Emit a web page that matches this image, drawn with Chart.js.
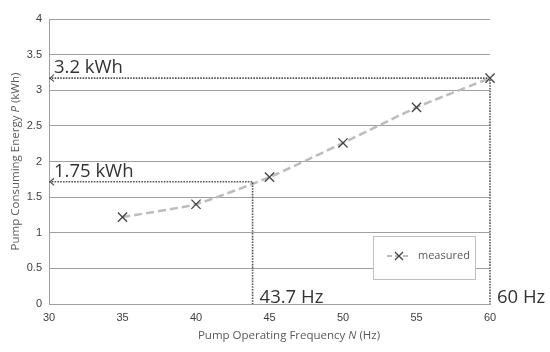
<!DOCTYPE html>
<html>
<head>
<meta charset="utf-8">
<script src="https://cdn.jsdelivr.net/npm/chart.js@4/dist/chart.umd.min.js"></script>
<style>
html,body{margin:0;padding:0;background:#fff;}
#wrap{width:550px;height:352px;position:relative;}
</style>
</head>
<body>
<div id="wrap"><canvas id="c" width="550" height="352"></canvas></div>
<script>
// ---- data ----
const frequencyHz = [35, 40, 45, 50, 55, 60];
const energyKWh = [1.22, 1.40, 1.78, 2.26, 2.76, 3.17];
const seriesName = 'measured';
const xTicks = [30, 35, 40, 45, 50, 55, 60];
const yTicks = [0, 0.5, 1, 1.5, 2, 2.5, 3, 3.5, 4];
// guide lines and their labels
const guideHz = [43.85, 60];
const guideKWh = [1.715, 3.17];
const guideKWhLabels = ['1.75 kWh', '3.2 kWh'];
const guideHzLabels = ['43.7 Hz', '60 Hz'];
const xTitleParts = [['Pump Operating Frequency ', false], ['N', true], [' (Hz)', false]];
const yTitleParts = [['Pump Consuming Energy ', false], ['P', true], [' (kWh)', false]];

const X_MIN = xTicks[0], X_MAX = xTicks[xTicks.length - 1];
const Y_MIN = yTicks[0], Y_MAX = yTicks[yTicks.length - 1];

const guideDatasets = guideHz.map((hz, i) => ({
  label: 'guide' + i,
  data: [{x: X_MIN, y: guideKWh[i]}, {x: hz, y: guideKWh[i]}, {x: hz, y: Y_MIN}],
  borderColor: '#555',
  borderWidth: 1.6,
  borderDash: [1.6, 1.2],
  pointRadius: 0,
  tension: 0,
  order: 0,
  clip: 4
}));

const TEXT_FONT = '"Open Sans", "Noto Sans", sans-serif';

function drawParts(ctx, parts, size, color) {
  let total = 0;
  parts.forEach(([t, it]) => { ctx.font = (it ? 'italic ' : '') + size + 'px ' + TEXT_FONT; total += ctx.measureText(t).width; });
  let x = -total / 2;
  ctx.fillStyle = color;
  ctx.textBaseline = 'middle';
  ctx.textAlign = 'left';
  parts.forEach(([t, it]) => {
    ctx.font = (it ? 'italic ' : '') + size + 'px ' + TEXT_FONT;
    ctx.fillText(t, x, 0);
    x += ctx.measureText(t).width;
  });
}

const extras = {
  id: 'extras',
  afterDatasetsDraw(chart) {
    const ctx = chart.ctx;
    const xs = chart.scales.x, ys = chart.scales.y;
    ctx.save();
    guideKWh.forEach(v => {
      const px = xs.getPixelForValue(X_MIN), py = ys.getPixelForValue(v);
      ctx.strokeStyle = '#555';
      ctx.lineWidth = 1.2;
      ctx.setLineDash([]);
      ctx.beginPath();
      ctx.moveTo(px + 5, py - 3.5);
      ctx.lineTo(px + 1, py);
      ctx.lineTo(px + 5, py + 3.5);
      ctx.stroke();
    });
    ctx.fillStyle = '#333';
    ctx.font = '18.5px ' + TEXT_FONT;
    ctx.textAlign = 'left';
    ctx.textBaseline = 'alphabetic';
    guideKWhLabels.forEach((t, i) => {
      ctx.fillText(t, xs.getPixelForValue(X_MIN) + 5, ys.getPixelForValue(guideKWh[i]) - 5);
    });
    guideHzLabels.forEach((t, i) => {
      ctx.fillText(t, xs.getPixelForValue(guideHz[i]) + 7, ys.getPixelForValue(Y_MIN) - 1);
    });
    // legend box
    const lx = 373, ly = 236, lw = 102, lh = 43;
    ctx.fillStyle = '#fff';
    ctx.fillRect(lx, ly, lw, lh);
    ctx.strokeStyle = '#c0c0c0';
    ctx.lineWidth = 1;
    ctx.strokeRect(lx + 0.5, ly + 0.5, lw, lh);
    const cy = ly + 20;
    ctx.strokeStyle = '#bbb';
    ctx.lineWidth = 2;
    ctx.setLineDash([5, 3]);
    ctx.beginPath(); ctx.moveTo(lx + 14, cy); ctx.lineTo(lx + 38, cy); ctx.stroke();
    ctx.setLineDash([]);
    ctx.strokeStyle = '#444';
    ctx.lineWidth = 1.3;
    ctx.beginPath();
    ctx.moveTo(lx + 22, cy - 4); ctx.lineTo(lx + 30, cy + 4);
    ctx.moveTo(lx + 30, cy - 4); ctx.lineTo(lx + 22, cy + 4);
    ctx.stroke();
    ctx.fillStyle = '#595959';
    ctx.font = '11px ' + TEXT_FONT;
    ctx.textBaseline = 'middle';
    ctx.fillText(seriesName, lx + 45, cy);
    // axis titles
    ctx.save();
    ctx.translate(289, 336);
    drawParts(ctx, xTitleParts, 11.5, '#595959');
    ctx.restore();
    ctx.save();
    ctx.translate(16, (chart.chartArea.top + chart.chartArea.bottom) / 2);
    ctx.rotate(-Math.PI / 2);
    drawParts(ctx, yTitleParts, 11.5, '#595959');
    ctx.restore();
    ctx.restore();
  }
};

new Chart(document.getElementById('c'), {
  type: 'line',
  data: {
    datasets: [
      {
        label: seriesName,
        data: frequencyHz.map((f, i) => ({x: f, y: energyKWh[i]})),
        borderColor: '#bdbdbd',
        borderWidth: 2.5,
        borderDash: [8, 4],
        tension: 0.15,
        pointStyle: 'crossRot',
        pointRadius: 6.5,
        pointBorderColor: '#444',
        pointBorderWidth: 1.3,
        pointBackgroundColor: '#444',
        order: 1,
        clip: 10
      },
      ...guideDatasets
    ]
  },
  options: {
    responsive: false,
    animation: false,
    layout: {padding: {top: 19, right: 60, left: 0, bottom: 0}},
    plugins: {legend: {display: false}, tooltip: {enabled: false}},
    scales: {
      x: {
        type: 'linear', min: X_MIN, max: X_MAX,
        afterBuildTicks: s => { s.ticks = xTicks.map(v => ({value: v})); },
        afterFit: s => { s.height = 48; },
        grid: {display: false, drawTicks: false},
        border: {display: true, color: '#a0a0a0', width: 1},
        ticks: {color: '#404040', font: {family: '"Liberation Sans", Arial, sans-serif', size: 11}, padding: 7, maxRotation: 0,
                callback: v => String(v)}
      },
      y: {
        type: 'linear', min: Y_MIN, max: Y_MAX,
        afterBuildTicks: s => { s.ticks = yTicks.map(v => ({value: v})); },
        afterFit: s => { s.width = 49; },
        grid: {color: '#a0a0a0', lineWidth: 1, drawTicks: false},
        border: {display: true, color: '#a0a0a0', width: 1},
        ticks: {color: '#404040', font: {family: '"Liberation Sans", Arial, sans-serif', size: 11}, padding: 7,
                callback: v => String(v)}
      }
    }
  },
  plugins: [extras]
});
</script>
</body>
</html>
